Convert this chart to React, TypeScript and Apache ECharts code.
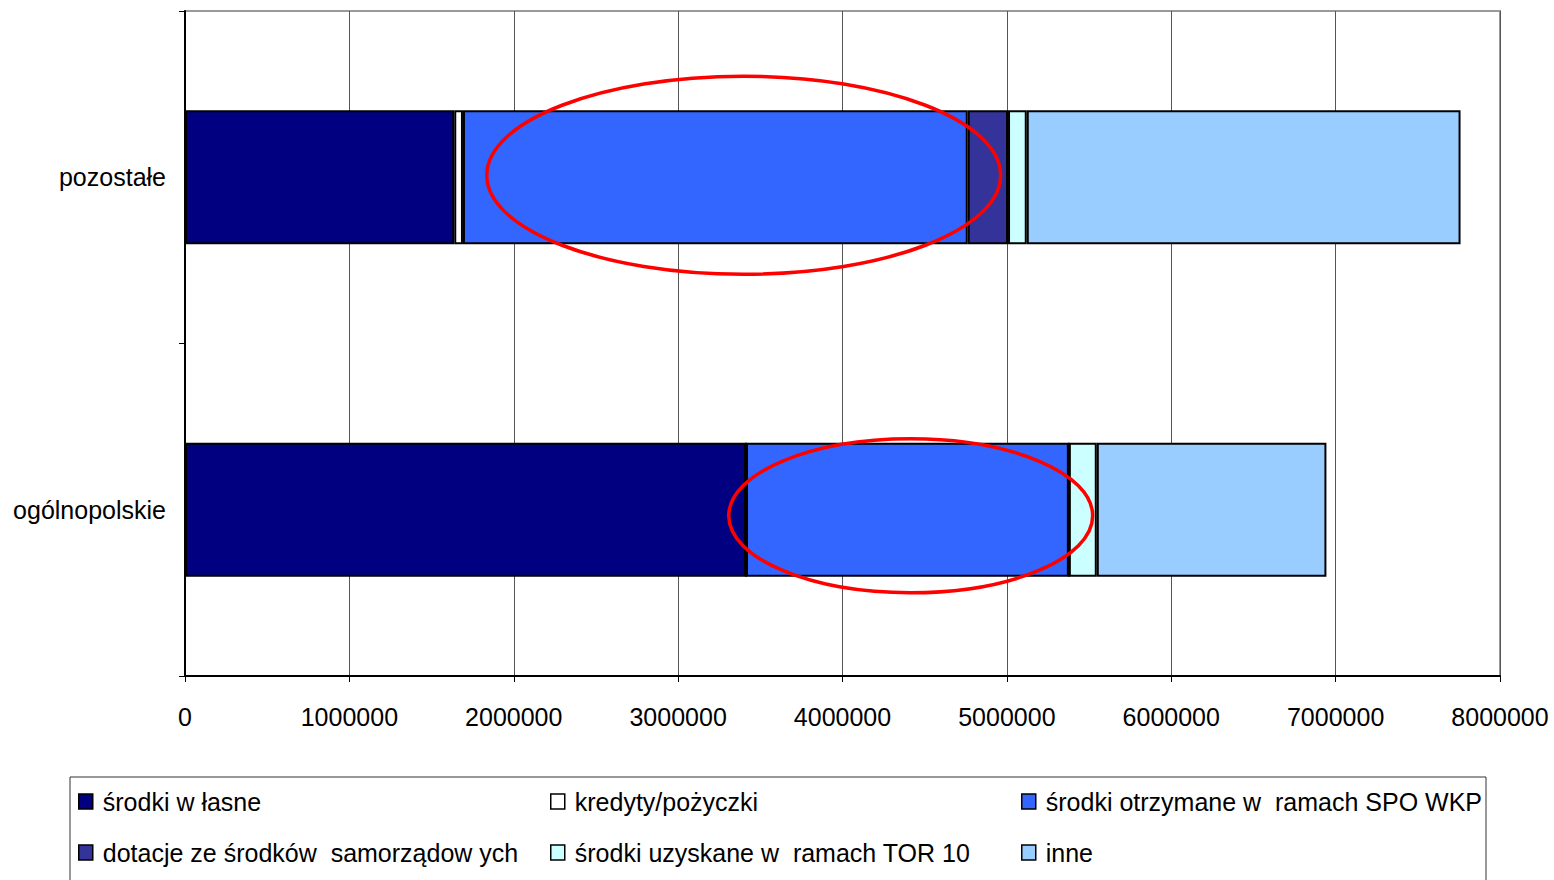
import React, { useEffect, useRef } from "react";
import * as echarts from "echarts";

const categories = ["ogólnopolskie", "pozostałe"];
const seriesNames = [
  "środki w łasne",
  "kredyty/pożyczki",
  "środki otrzymane w  ramach SPO WKP",
  "dotacje ze środków  samorządow ych",
  "środki uzyskane w  ramach TOR 10",
  "inne",
];
const seriesColors = ["#000080", "#FFFFFF", "#3366FF", "#333399", "#CCFFFF", "#99CCFF"];
// values per series: [ogólnopolskie, pozostałe]
const srodkiWlasne = [3413000, 1638000];
const kredyty = [0, 53000];
const spoWkp = [1964000, 3071000];
const dotacje = [0, 245000];
const tor10 = [170000, 114000];
const inne = [1397000, 2639000];
const seriesValues = [srodkiWlasne, kredyty, spoWkp, dotacje, tor10, inne];
const xTicks = [0, 1000000, 2000000, 3000000, 4000000, 5000000, 6000000, 7000000, 8000000];
// annotation ellipses: [category, centre value, x radius (value units), y offset px, y radius px]
const ellipses: [string, number, number, number, number][] = [
  ["pozostałe", 3399000, 1563000, -2, 99],
  ["ogólnopolskie", 4415000, 1107000, 6, 77],
];

const FONT = "Liberation Sans, Arial, sans-serif";
const legendLefts = [78, 550, 1021];
const legendTops = [789, 840];

export default function App() {
  const ref = useRef<HTMLDivElement>(null);
  useEffect(() => {
    document.body.style.margin = "0";
    const chart = echarts.init(ref.current!, undefined, { renderer: "svg" });
    const legends = seriesNames.map((name, i) => ({
      left: legendLefts[i % 3],
      top: legendTops[Math.floor(i / 3)],
      orient: "horizontal",
      itemWidth: 14,
      itemHeight: 15,
      itemGap: 5,
      padding: 0,
      icon: "rect",
      itemStyle: { borderColor: "#000", borderWidth: 1.5 },
      textStyle: { fontSize: 25, fontFamily: FONT, color: "#000", padding: [0, 0, 0, 5] },
      selectedMode: false,
      data: [name],
    }));
    const legendBox = {
      type: "rect",
      shape: { x: 70, y: 777, width: 1416, height: 200 },
      style: { fill: "none", stroke: "#333", lineWidth: 1 },
      silent: true,
      z: -1,
    };
    chart.setOption({
      animation: false,
      backgroundColor: "#fff",
      grid: {
        left: 185,
        right: 54,
        top: 11,
        bottom: 204,
        show: true,
        borderColor: "#999",
        borderWidth: 2,
      },
      xAxis: {
        type: "value",
        min: 0,
        max: 8000000,
        interval: 1000000,
        axisLine: { show: true, lineStyle: { color: "#000", width: 2 } },
        axisTick: { show: true, length: 6, lineStyle: { color: "#000" } },
        axisLabel: {
          fontSize: 25,
          fontFamily: FONT,
          color: "#000",
          margin: 28,
          formatter: (v: number) => (xTicks.includes(v) ? String(v) : ""),
        },
        splitLine: { show: true, lineStyle: { color: "#555", width: 1 } },
      },
      yAxis: {
        type: "category",
        data: categories,
        axisLine: { show: true, lineStyle: { color: "#000", width: 2 } },
        axisTick: { show: true, length: 6, lineStyle: { color: "#000" } },
        axisLabel: { fontSize: 25, fontFamily: FONT, color: "#000", margin: 19 },
        splitLine: { show: false },
      },
      legend: legends,
      series: seriesNames.map((name, i) => ({
        name,
        type: "bar",
        stack: "total",
        barWidth: 134,
        data: seriesValues[i],
        itemStyle: { color: seriesColors[i], borderColor: "#000", borderWidth: 2 },
        emphasis: { disabled: true },
      })),
      graphic: [legendBox],
    });
    const ell = ellipses.map(([cat, cx, rxv, dy, ry]) => {
      const c = chart.convertToPixel({ gridIndex: 0 }, [cx, cat]) as number[];
      const l = chart.convertToPixel({ gridIndex: 0 }, [cx - rxv, cat]) as number[];
      return {
        type: "ellipse",
        shape: { cx: c[0], cy: c[1] + dy, rx: c[0] - l[0], ry },
        style: { fill: "none", stroke: "#FF0000", lineWidth: 3.5 },
        silent: true,
        z: 100,
      };
    });
    chart.setOption({ graphic: [legendBox, ...ell] });
    return () => chart.dispose();
  }, []);
  return <div ref={ref} style={{ width: 1554, height: 880 }} />;
}
